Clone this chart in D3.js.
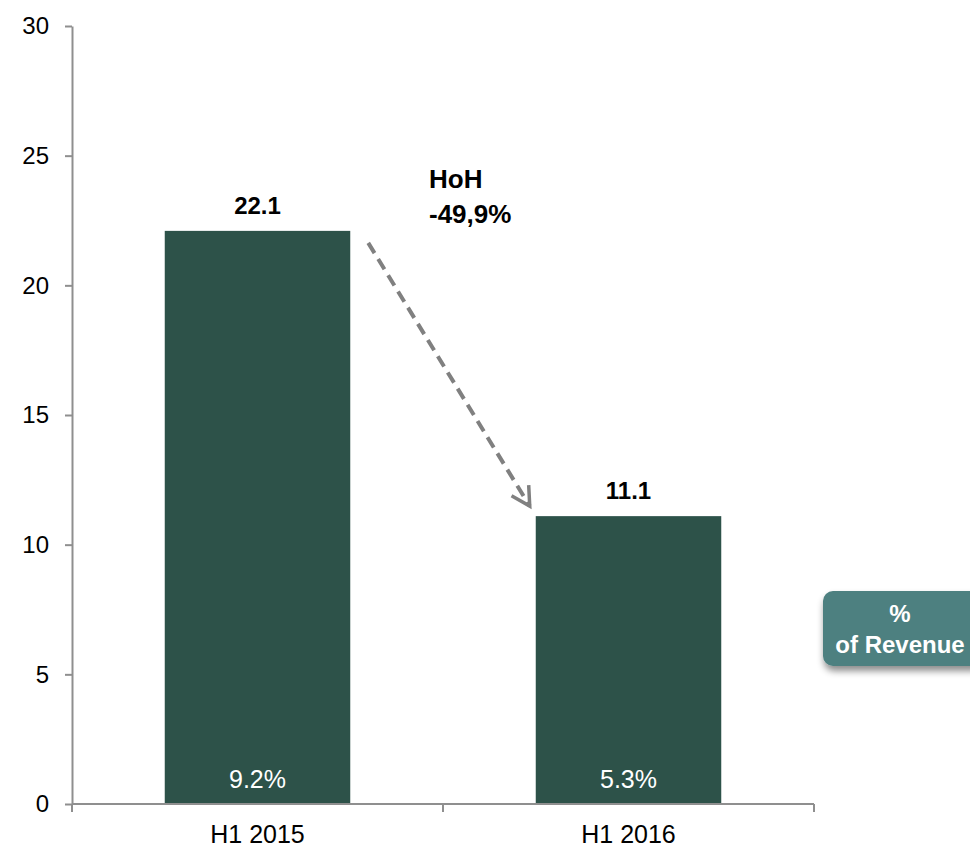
<!DOCTYPE html>
<html>
<head>
<meta charset="utf-8">
<script src="https://cdn.jsdelivr.net/npm/d3@7"></script>
<style>
  html, body { margin: 0; padding: 0; background: #fff; }
  svg { display: block; font-family: "Liberation Sans", Arial, sans-serif; }
</style>
</head>
<body>
<svg id="chart" width="970" height="849"></svg>
<script>
// Periods and values (EUR m) with share of revenue
const periods = ["H1 2015", "H1 2016"];
const values = [22.1, 11.1];
const revenueShare = ["9.2%", "5.3%"];
const yTicks = [0, 5, 10, 15, 20, 25, 30];
const changeLabel = ["HoH", "-49,9%"];
const badgeLines = ["%", "of Revenue"];

const svg = d3.select("#chart");
const margin = { left: 72, right: 156, top: 26, bottom: 45 };
const W = 970, H = 849;

const x = d3.scaleBand()
  .domain(periods)
  .range([margin.left, W - margin.right])
  .paddingInner(0.5)
  .paddingOuter(0.25);

const y = d3.scaleLinear()
  .domain([0, 30])
  .range([H - margin.bottom, margin.top]);

const axisColor = "#8f8f8f";
const barColor = "#2d5249";

// Bars
svg.selectAll("rect.bar")
  .data(values)
  .join("rect")
  .attr("class", "bar")
  .attr("x", (d, i) => x(periods[i]))
  .attr("y", d => y(d))
  .attr("width", x.bandwidth())
  .attr("height", d => y(0) - y(d))
  .attr("fill", barColor);

// Y axis
const yAxis = svg.append("g")
  .attr("transform", `translate(${margin.left},0)`)
  .call(d3.axisLeft(y).tickValues(yTicks).tickSize(7).tickPadding(16).tickSizeOuter(0));
yAxis.select(".domain").attr("stroke", axisColor).attr("stroke-width", 2);
yAxis.selectAll(".tick line").attr("stroke", axisColor).attr("stroke-width", 2);
yAxis.selectAll(".tick text")
  .attr("font-size", 24).attr("fill", "#000")
  .attr("font-family", "Liberation Sans, Arial, sans-serif");

// X axis: ticks at the category boundaries
const step = x.step();
const xEdges = [margin.left, margin.left + step * 1.0 + 0, W - margin.right];
const xAxisG = svg.append("g").attr("transform", `translate(0,${y(0)})`);
xAxisG.append("line")
  .attr("x1", margin.left).attr("x2", W - margin.right)
  .attr("stroke", axisColor).attr("stroke-width", 2);
const boundaries = [margin.left, (x(periods[0]) + x.bandwidth() + x(periods[1])) / 2, W - margin.right];
xAxisG.selectAll("line.tk")
  .data(boundaries)
  .join("line")
  .attr("class", "tk")
  .attr("x1", d => d).attr("x2", d => d)
  .attr("y1", 0).attr("y2", 8)
  .attr("stroke", axisColor).attr("stroke-width", 2);
xAxisG.selectAll("text")
  .data(periods)
  .join("text")
  .attr("x", d => x(d) + x.bandwidth() / 2)
  .attr("y", 39)
  .attr("text-anchor", "middle")
  .attr("font-size", 25)
  .attr("fill", "#000")
  .text(d => d);

// Value labels above bars
svg.selectAll("text.val")
  .data(values)
  .join("text")
  .attr("class", "val")
  .attr("x", (d, i) => x(periods[i]) + x.bandwidth() / 2)
  .attr("y", d => y(d) - 17)
  .attr("text-anchor", "middle")
  .attr("font-size", 24)
  .attr("font-weight", "bold")
  .attr("fill", "#000")
  .text(d => d.toFixed(1));

// Share of revenue inside bars
svg.selectAll("text.share")
  .data(revenueShare)
  .join("text")
  .attr("class", "share")
  .attr("x", (d, i) => x(periods[i]) + x.bandwidth() / 2)
  .attr("y", y(0) - 16)
  .attr("text-anchor", "middle")
  .attr("font-size", 25)
  .attr("fill", "#fff")
  .text(d => d);

// Change annotation
const ann = svg.append("text")
  .attr("x", 429)
  .attr("y", 188)
  .attr("font-size", 26)
  .attr("font-weight", "bold")
  .attr("fill", "#000");
ann.selectAll("tspan")
  .data(changeLabel)
  .join("tspan")
  .attr("x", 429)
  .attr("dy", (d, i) => i === 0 ? 0 : 35)
  .text(d => d);

// Dashed arrow from first bar down to second
const x0 = x(periods[0]) + x.bandwidth() + 18;
const y0 = y(values[0]) + 12;
const x1 = x(periods[1]) - 6;
const y1 = y(values[1]) - 10;
svg.append("line")
  .attr("x1", x0).attr("y1", y0)
  .attr("x2", x1).attr("y2", y1)
  .attr("stroke", "#808080")
  .attr("stroke-width", 4)
  .attr("stroke-dasharray", "12,7");
const ang = Math.atan2(y1 - y0, x1 - x0);
const wing = 21, spread = 0.5;
const head = d3.path();
head.moveTo(x1 - wing * Math.cos(ang - spread), y1 - wing * Math.sin(ang - spread));
head.lineTo(x1, y1);
head.lineTo(x1 - wing * Math.cos(ang + spread), y1 - wing * Math.sin(ang + spread));
svg.append("path")
  .attr("d", head.toString())
  .attr("fill", "none")
  .attr("stroke", "#808080")
  .attr("stroke-width", 3.5);

// "% of Revenue" badge
const defs = svg.append("defs");
const f = defs.append("filter").attr("id", "shadow")
  .attr("x", "-20%").attr("y", "-20%").attr("width", "140%").attr("height", "160%");
f.append("feDropShadow")
  .attr("dx", 1).attr("dy", 5).attr("stdDeviation", 3.5)
  .attr("flood-color", "#000").attr("flood-opacity", 0.45);

const badge = svg.append("g");
badge.append("rect")
  .attr("x", 823).attr("y", 591)
  .attr("width", 160).attr("height", 75)
  .attr("rx", 10)
  .attr("fill", "#4e8080")
  .attr("filter", "url(#shadow)");
badge.selectAll("text")
  .data(badgeLines)
  .join("text")
  .attr("x", 900)
  .attr("y", (d, i) => i === 0 ? 622 : 653)
  .attr("text-anchor", "middle")
  .attr("font-size", 24)
  .attr("font-weight", "bold")
  .attr("fill", "#fff")
  .text(d => d);
</script>
</body>
</html>
